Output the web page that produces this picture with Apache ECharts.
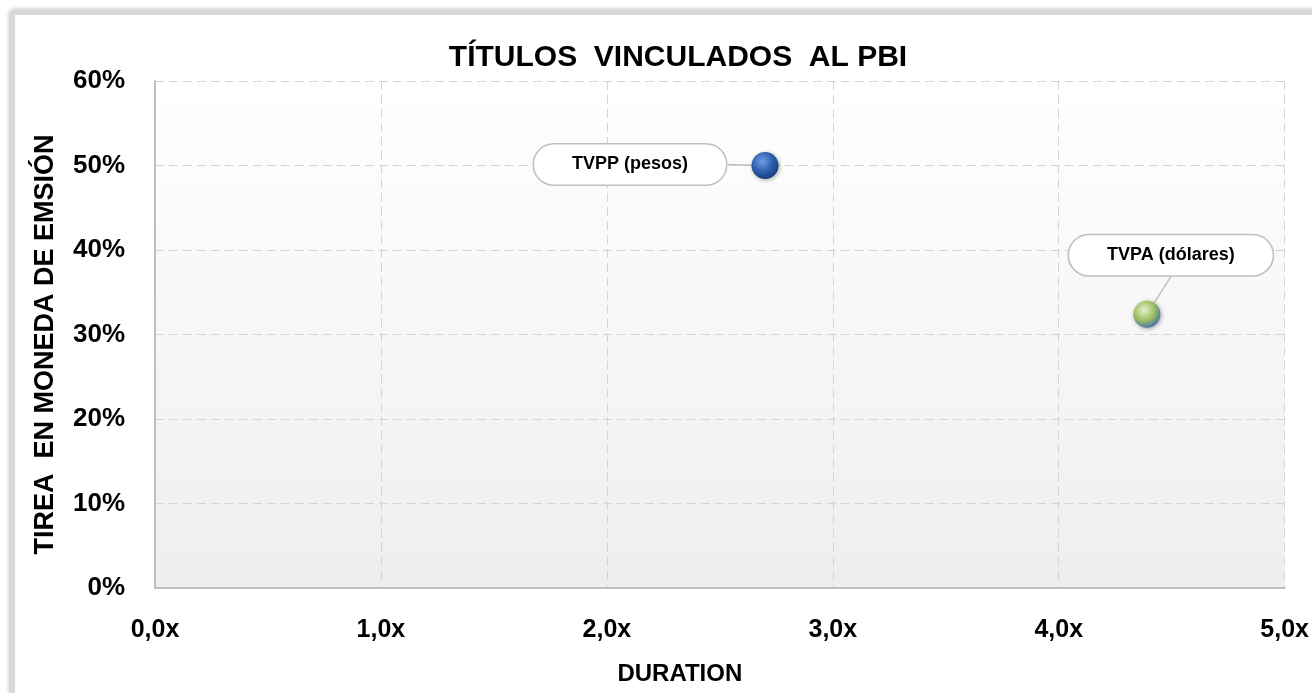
<!DOCTYPE html>
<html>
<head>
<meta charset="utf-8">
<script src="https://cdn.jsdelivr.net/npm/echarts@6/dist/echarts.min.js"></script>
<style>
    html, body { margin: 0; padding: 0; background: #fff; }
    #frame {
        position: absolute; left: 9px; top: 9px; width: 1320px; height: 700px;
        border: 6px solid #d9d9d9; border-radius: 6px;
        box-shadow: 0 0 4px #c4c4c4;
    }
    #chart { position: absolute; left: 0; top: 0; width: 1312px; height: 693px; }
</style>
</head>
<body>
<div id="frame"></div>
<div id="chart"></div>
<script>
// data
var bondNames = ["TVPP (pesos)", "TVPA (dólares)"];
var duration = [2.70, 4.39];
var tirea = [50.0, 32.4];
var xTicks = [0, 1, 2, 3, 4, 5];
var yTicks = [0, 10, 20, 30, 40, 50, 60];

(function() {
    var font = "Liberation Sans";

    function ball(c0, c1, c2) {
        return new echarts.graphic.RadialGradient(0.4, 0.35, 0.7, [
            { offset: 0, color: c0 },
            { offset: 0.55, color: c1 },
            { offset: 1, color: c2 }
        ]);
    }

    var markerColors = [
        ball("#6f9de4", "#2c5fae", "#173a78"),
        ball("#e6f1cc", "#9fbf63", "#3d6fb0")
    ];
    // where the callout bubble sits relative to its point
    var calloutShift = [[-135, -1], [24, -59]];

    function pctLabel(v) {
        return v + "%";
    }

    function xLabel(v) {
        return v.toFixed(1).replace(".", ",") + "x";
    }

    var series = bondNames.map(function(name, i) {
        return {
            name: name,
            type: "scatter",
            symbolSize: 27,
            data: [[duration[i], tirea[i]]],
            itemStyle: {
                opacity: 1,
                color: markerColors[i],
                shadowBlur: 4,
                shadowColor: "rgba(0,0,0,0.35)",
                shadowOffsetX: 1,
                shadowOffsetY: 1
            },
            label: {
                show: true,
                position: "inside",
                formatter: name,
                fontFamily: font,
                fontWeight: "bold",
                fontSize: 18,
                color: "#000",
                textBorderWidth: 0,
                backgroundColor: "#fff",
                borderColor: "#bfbfbf",
                borderWidth: 1.5,
                borderRadius: 21,
                padding: [11, 38]
            },
            labelLayout: {
                dx: calloutShift[i][0],
                dy: calloutShift[i][1]
            },
            labelLine: {
                show: true,
                lineStyle: { color: "#bfbfbf", width: 1.5 }
            },
            z: 3 + i
        };
    });

    var option = {
        animation: false,
        title: {
            text: "TÍTULOS  VINCULADOS  AL PBI",
            left: 673,
            top: 38,
            textAlign: "center",
            textStyle: {
                fontFamily: font,
                fontWeight: "bold",
                fontSize: 30,
                color: "#000"
            }
        },
        grid: {
            left: 155,
            right: 27,
            top: 81,
            bottom: 105,
            show: true,
            borderWidth: 0,
            backgroundColor: new echarts.graphic.LinearGradient(0, 0, 0, 1, [
                { offset: 0, color: "#ffffff" },
                { offset: 1, color: "#eeeeee" }
            ])
        },
        xAxis: {
            type: "value",
            min: xTicks[0],
            max: xTicks[xTicks.length - 1],
            interval: 1,
            name: "DURATION",
            nameLocation: "middle",
            nameGap: 74,
            nameTextStyle: {
                fontFamily: font,
                fontWeight: "bold",
                fontSize: 24,
                color: "#000",
                padding: [0, 80, 0, 0]
            },
            axisLine: {
                show: true,
                onZero: false,
                lineStyle: { color: "#bfbfbf", width: 2 }
            },
            axisTick: { show: false },
            axisLabel: {
                formatter: xLabel,
                margin: 30,
                fontFamily: font,
                fontWeight: "bold",
                fontSize: 25,
                color: "#000"
            },
            splitLine: {
                show: true,
                lineStyle: { color: "#d4d4d4", type: [9, 5], width: 1 }
            }
        },
        yAxis: {
            type: "value",
            min: yTicks[0],
            max: yTicks[yTicks.length - 1],
            interval: 10,
            name: "TIREA  EN MONEDA DE EMSIÓN",
            nameLocation: "middle",
            nameRotate: 90,
            nameGap: 96,
            nameTextStyle: {
                fontFamily: font,
                fontWeight: "bold",
                fontSize: 27,
                color: "#000",
                padding: [0, 20, 0, 0]
            },
            axisLine: {
                show: true,
                lineStyle: { color: "#bfbfbf", width: 2 }
            },
            axisTick: { show: false },
            axisLabel: {
                formatter: pctLabel,
                margin: 30,
                fontFamily: font,
                fontWeight: "bold",
                fontSize: 26,
                color: "#000"
            },
            splitLine: {
                show: true,
                lineStyle: { color: "#d4d4d4", type: [9, 5], width: 1 }
            }
        },
        series: series
    };

    var myChart = echarts.init(document.getElementById("chart"));
    myChart.setOption(option);
    window.addEventListener("resize", function() {
        myChart.resize();
    });
})();
</script>
</body>
</html>
